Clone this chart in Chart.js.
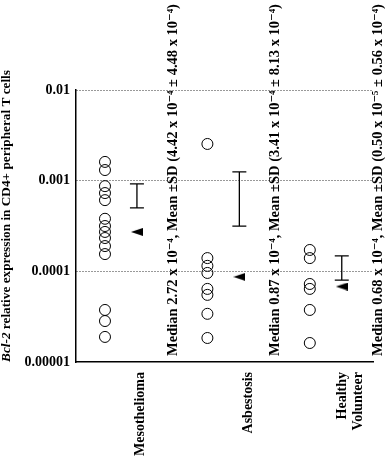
<!DOCTYPE html>
<html>
<head>
<meta charset="utf-8">
<script src="https://cdn.jsdelivr.net/npm/chart.js@4.4.1/dist/chart.umd.min.js"></script>
<style>
  html, body { margin: 0; padding: 0; background: #fff; }
</style>
</head>
<body>
<canvas id="bcl2Chart" width="387" height="458"></canvas>
<script>
// groups along the x axis
const groups = ['Mesothelioma', 'Asbestosis', ['Healthy', 'Volunteer']];

// Bcl-2 relative expression, one circle per patient
const mesothelioma = [1.61e-3, 1.31e-3, 8.7e-4, 7.3e-4, 6.1e-4, 3.8e-4, 3.16e-4, 2.72e-4, 2.33e-4, 1.9e-4, 1.55e-4, 3.75e-5, 2.83e-5, 1.89e-5];
const asbestosis = [2.54e-3, 1.4e-4, 1.15e-4, 9.6e-5, 6.4e-5, 5.5e-5, 3.4e-5, 1.84e-5];
const healthy = [1.72e-4, 1.4e-4, 7.25e-5, 6.4e-5, 3.75e-5, 1.62e-5];

// median markers and error bars
const medians = [2.72e-4, 0.87e-4, 0.68e-4];
const barLow = [5.0e-4, 3.16e-4, 0.8e-4];
const barHigh = [9.2e-4, 1.25e-3, 1.48e-4];

const summaries = [
    'Median 2.72 x 10\u207B\u2074, Mean \u00B1SD (4.42 x 10\u207B\u2074 \u00B1 4.48 x 10\u207B\u2074)',
    'Median 0.87 x 10\u207B\u2074, Mean \u00B1SD (3.41 x 10\u207B\u2074 \u00B1 8.13 x 10\u207B\u2074)',
    'Median 0.68 x 10\u207B\u2074, Mean \u00B1SD (0.50 x 10\u207B\u2075 \u00B1 0.56 x 10\u207B\u2074)'
];

const yTicks = [1e-5, 1e-4, 1e-3, 1e-2];
const yTickLabels = ['0.00001', '0.0001', '0.001', '0.01'];

// offsets inside each group slot
const DOT_X = 0.283, BAR_X = 0.595, TEXT_X = 0.95;
const LABEL_X = [0.624, 0.688, 0.683];

const FONT = '"Liberation Serif", "DejaVu Serif", serif';

// font size that makes text span a given length
function fitFont(c, style, text, target) {
    c.font = style + ' 20px ' + FONT;
    const w = c.measureText(text).width;
    return style + ' ' + (20 * target / w).toFixed(2) + 'px ' + FONT;
}

// left pointing filled triangle for the medians
const tri = document.createElement('canvas');
tri.width = 12; tri.height = 8;
const tctx = tri.getContext('2d');
tctx.fillStyle = '#000';
tctx.beginPath(); tctx.moveTo(0, 4); tctx.lineTo(12, 0); tctx.lineTo(12, 8); tctx.closePath(); tctx.fill();

const circleSet = (values, i) => ({
    data: values.map(v => ({ x: i + DOT_X, y: v })),
    pointStyle: 'circle',
    pointRadius: 5.5,
    pointBorderWidth: 1,
    pointBorderColor: '#000',
    pointBackgroundColor: 'rgba(0,0,0,0)',
    showLine: false
});

const extras = {
    id: 'extras',
    afterDatasetsDraw(chart) {
        const { ctx, scales: { x, y } } = chart;
        ctx.save();
        // error bars
        ctx.strokeStyle = '#000';
        ctx.lineWidth = 1.3;
        barLow.forEach((lo, i) => {
            const px = x.getPixelForValue(i + BAR_X);
            const y0 = y.getPixelForValue(lo);
            const y1 = y.getPixelForValue(barHigh[i]);
            ctx.beginPath();
            ctx.moveTo(px, y0); ctx.lineTo(px, y1);
            ctx.moveTo(px - 7, y0); ctx.lineTo(px + 7, y0);
            ctx.moveTo(px - 7, y1); ctx.lineTo(px + 7, y1);
            ctx.stroke();
        });

        ctx.fillStyle = '#000';
        ctx.textBaseline = 'middle';
        // summary text, rotated, reading upward
        const sumFont = fitFont(ctx, 'bold', summaries[0], 352);
        summaries.forEach((s, i) => {
            ctx.save();
            ctx.font = sumFont;
            ctx.translate(x.getPixelForValue(i + TEXT_X), 356);
            ctx.rotate(-Math.PI / 2);
            ctx.textAlign = 'left';
            ctx.fillText(s, 0, 0);
            ctx.restore();
        });

        // group labels under the axis
        const labelFont = fitFont(ctx, 'bold', 'Mesothelioma', 84);
        groups.forEach((g, i) => {
            const lines = Array.isArray(g) ? g : [g];
            const cx = x.getPixelForValue(i + LABEL_X[i]);
            lines.forEach((line, k) => {
                ctx.save();
                ctx.font = labelFont;
                ctx.translate(cx + (k - (lines.length - 1) / 2) * 16, 372);
                ctx.rotate(-Math.PI / 2);
                ctx.textAlign = 'right';
                ctx.fillText(line, 0, 0);
                ctx.restore();
            });
        });

        // y axis title, Bcl-2 in italics
        const rest = ' relative expression in CD4+ peripheral T cells';
        const titleSize = fitFont(ctx, 'bold', 'Bcl-2' + rest, 292).split(' ')[1];
        const italic = 'italic bold ' + titleSize + ' ' + FONT;
        const plain = 'bold ' + titleSize + ' ' + FONT;
        ctx.save();
        ctx.translate(7, 216);
        ctx.rotate(-Math.PI / 2);
        ctx.font = italic;
        const w1 = ctx.measureText('Bcl-2').width;
        ctx.font = plain;
        const w2 = ctx.measureText(rest).width;
        const sx = -(w1 + w2) / 2;
        ctx.textAlign = 'left';
        ctx.font = italic;
        ctx.fillText('Bcl-2', sx, 0);
        ctx.font = plain;
        ctx.fillText(rest, sx + w1, 0);
        ctx.restore();

        ctx.restore();
    }
};

const ctx = document.getElementById('bcl2Chart').getContext('2d');
const bcl2Chart = new Chart(ctx, {
    type: 'scatter',
    data: {
        datasets: [
            circleSet(mesothelioma, 0),
            circleSet(asbestosis, 1),
            circleSet(healthy, 2),
            {
                data: medians.map((v, i) => ({ x: i + BAR_X, y: v })),
                pointStyle: tri,
                pointRadius: 6,
                showLine: false
            }
        ]
    },
    options: {
        responsive: false,
        animation: false,
        devicePixelRatio: 1,
        layout: { padding: { top: 90, right: 14, left: 0, bottom: 0 } },
        plugins: {
            legend: { display: false },
            tooltip: { enabled: false }
        },
        scales: {
            x: {
                type: 'linear',
                min: 0,
                max: 2.9,
                grid: { display: false },
                ticks: { display: false },
                border: { display: true, color: '#000', width: 1.5 },
                afterFit: scale => { scale.height = 96; }
            },
            y: {
                type: 'logarithmic',
                min: 1e-5,
                max: 1e-2,
                afterBuildTicks: axis => { axis.ticks = yTicks.map(v => ({ value: v })); },
                ticks: {
                    color: '#000',
                    padding: 6,
                    font: { family: FONT, size: 14, weight: 'bold' },
                    callback: (value, index) => yTickLabels[index]
                },
                grid: {
                    drawTicks: false,
                    lineWidth: 1,
                    color: c => (c.tick && c.tick.value === 1e-5) ? 'rgba(0,0,0,0)' : '#333'
                },
                border: { display: true, color: '#000', width: 1.5, dash: [1, 2] },
                afterFit: scale => { scale.width = 76; }
            }
        }
    },
    plugins: [extras]
});
</script>
</body>
</html>
